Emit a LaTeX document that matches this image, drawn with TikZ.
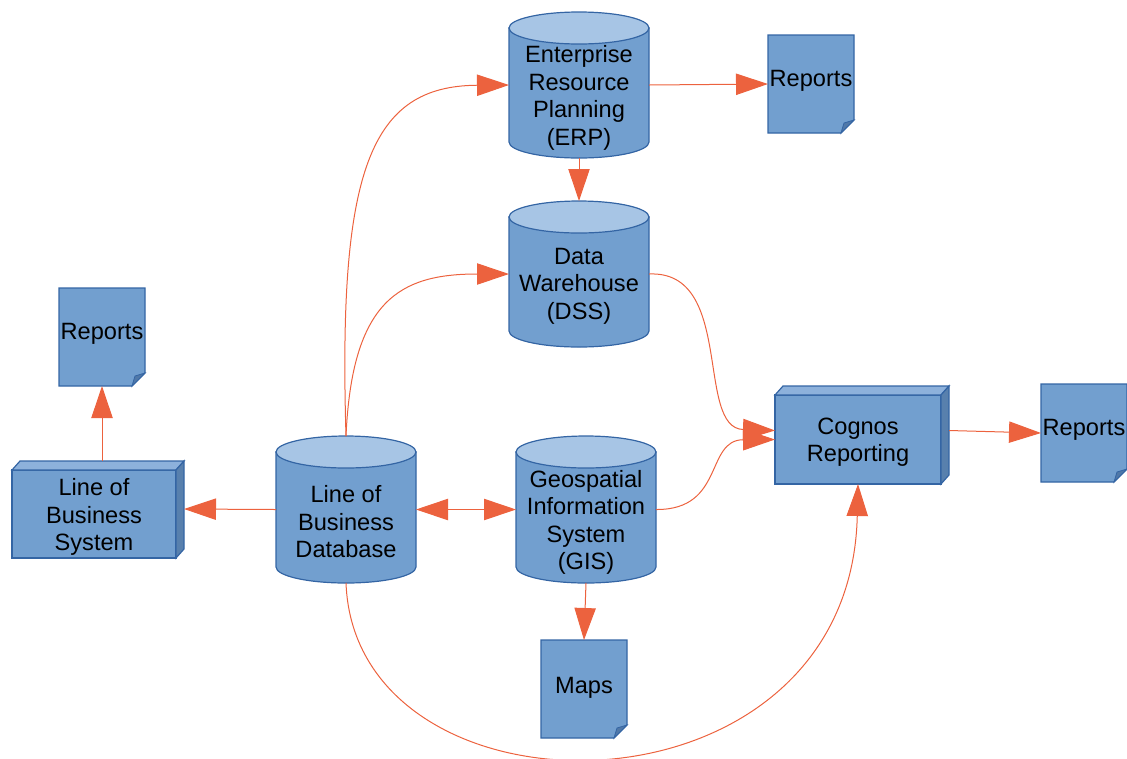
\documentclass[tikz,border=0pt]{standalone}
\usepackage{fontspec}
\setmainfont{Liberation Sans}
\usetikzlibrary{arrows.meta,calc}
\definecolor{bfill}{RGB}{114,159,207}
\definecolor{btop}{RGB}{167,197,229}
\definecolor{bline}{RGB}{52,101,164}
\definecolor{bside}{RGB}{88,128,173}
\definecolor{btopface}{RGB}{141,177,219}
\definecolor{bfold}{RGB}{80,120,168}
\definecolor{acol}{RGB}{236,98,62}
\tikzset{
  shapebox/.style={draw=none,inner sep=0pt,outer sep=0pt},
  lbl/.style={inner sep=0pt,align=center,font=\fontsize{17.7}{20.6}\selectfont},
  conn/.style={draw=acol,line width=0.75pt,-{Triangle[length=24pt,width=16pt]},fill=none},
  conn2/.style={draw=acol,line width=0.75pt,{Triangle[length=24pt,width=16pt]}-{Triangle[length=24pt,width=16pt]}},
  cylbody/.style={fill=bfill,draw=bline,line width=0.9pt},
  cyltop/.style={fill=btop,draw=bline,line width=0.9pt},
}
% cx, ytop, ybot
\newcommand{\drawcyl}[3]{%
  \path[cylbody] ({#1-70},{#2+16}) -- ({#1-70},{#3-16}) arc[start angle=180,end angle=0,x radius=70,y radius=16] -- ({#1+70},{#2+16}) -- cycle;
  \path[cyltop] (#1,{#2+16}) ellipse [x radius=70,y radius=16];
}
% x1,y1,x2,y2 front face
\newcommand{\drawbox}[4]{%
  \path[fill=bfill,draw=bline,line width=0.9pt] (#1,#2) rectangle (#3,#4);
  \path[fill=btopface,draw=bline,line width=0.9pt] (#1,#2) -- ({#1+8},{#2-9}) -- ({#3+8},{#2-9}) -- (#3,#2) -- cycle;
  \path[fill=bside,draw=bline,line width=0.9pt] (#3,#2) -- ({#3+8},{#2-9}) -- ({#3+8},{#4-9}) -- (#3,#4) -- cycle;
}
\newcommand{\drawdoc}[4]{%
  \path[fill=bfill,draw=bline,line width=0.9pt] (#1,#2) -- (#3,#2) -- (#3,{#4-13}) -- ({#3-13},#4) -- (#1,#4) -- cycle;
  \path[fill=bfold,draw=bline,line width=0.6pt] ({#3-13},#4) -- ({#3-10},{#4-10}) -- (#3,{#4-13}) -- cycle;
}
\begin{document}
\begin{tikzpicture}[x=0.75pt,y=-0.75pt]
\useasboundingbox (0,0) rectangle (1127,758);
% shapes
\drawcyl{579}{12}{158}
\node[shapebox,minimum width=105pt,minimum height=109.5pt] (erp) at (579,85) {};
\node[lbl] (erpt) at (579,98) {Enterprise\\Resource\\Planning\\(ERP)};

\drawcyl{579}{201}{347}
\node[shapebox,minimum width=105pt,minimum height=109.5pt] (dw) at (579,274) {};
\node[lbl] (dwt) at (579,286) {Data\\Warehouse\\(DSS)};

\drawcyl{346}{436}{583}
\node[shapebox,minimum width=105pt,minimum height=110pt] (lobdb) at (346,509.5) {};
\node[lbl] (lobdbt) at (346,522) {Line of\\Business\\Database};

\drawcyl{586}{436}{583}
\node[shapebox,minimum width=105pt,minimum height=110pt] (gis) at (586,509.5) {};
\node[lbl] (gist) at (586,522.5) {Geospatial\\Information\\System\\(GIS)};

\drawbox{12}{470}{176}{558}
\node[shapebox,minimum width=123pt,minimum height=66pt] (lobsys) at (94,514) {};
\node[lbl] (lobsyst) at (94,517) {Line of\\Business\\System};

\drawbox{775}{395}{941}{484}
\node[shapebox,minimum width=124.5pt,minimum height=66.75pt] (cog) at (858,439.5) {};
\node[lbl] (cogt) at (858,442) {Cognos\\Reporting};

\drawdoc{768}{35}{854}{133}
\node[shapebox,minimum width=64.5pt,minimum height=73.5pt] (rep1) at (811,84) {};
\node[lbl] (rep1t) at (811,81) {Reports};

\drawdoc{59}{288}{145}{386}
\node[shapebox,minimum width=64.5pt,minimum height=73.5pt] (rep2) at (102,337) {};
\node[lbl] (rep2t) at (102,334) {Reports};

\drawdoc{1041}{384}{1127}{482}
\node[shapebox,minimum width=64.5pt,minimum height=73.5pt] (rep3) at (1084,433) {};
\node[lbl] (rep3t) at (1084,430) {Reports};

\drawdoc{541}{640}{627}{738}
\node[shapebox,minimum width=64.5pt,minimum height=73.5pt] (maps) at (584,689) {};
\node[lbl] (mapst) at (584,688) {Maps};

% connectors
\draw[conn] (erp.east) -- (rep1.west);
\draw[conn] (erp.south) -- (dw.north);
\draw[conn] (lobdb.north) .. controls (338,170) and (370,86) .. (erp.west);
\draw[conn] (lobdb.north) .. controls (352,300) and (400,274) .. (dw.west);
\draw[conn] (dw.east) .. controls (735,270) and (695,428) .. ($(cog.west)+(0,-9)$);
\draw[conn] (gis.east) .. controls (725,510) and (705,440) .. (cog.west);
\draw[conn] ($(cog.east)+(8,-9)$) -- (rep3.west);
\draw[conn] (lobdb.west) -- ($(lobsys.east)+(8,-5)$);
\draw[conn] ($(lobsys.north)+(8,-9)$) -- (rep2.south);
\draw[conn2] (lobdb.east) -- (gis.west);
\draw[conn] (gis.south) -- (maps.north);
\draw[conn] (lobdb.south) .. controls (355,830) and (850,830) .. (cog.south);
\end{tikzpicture}
\end{document}
